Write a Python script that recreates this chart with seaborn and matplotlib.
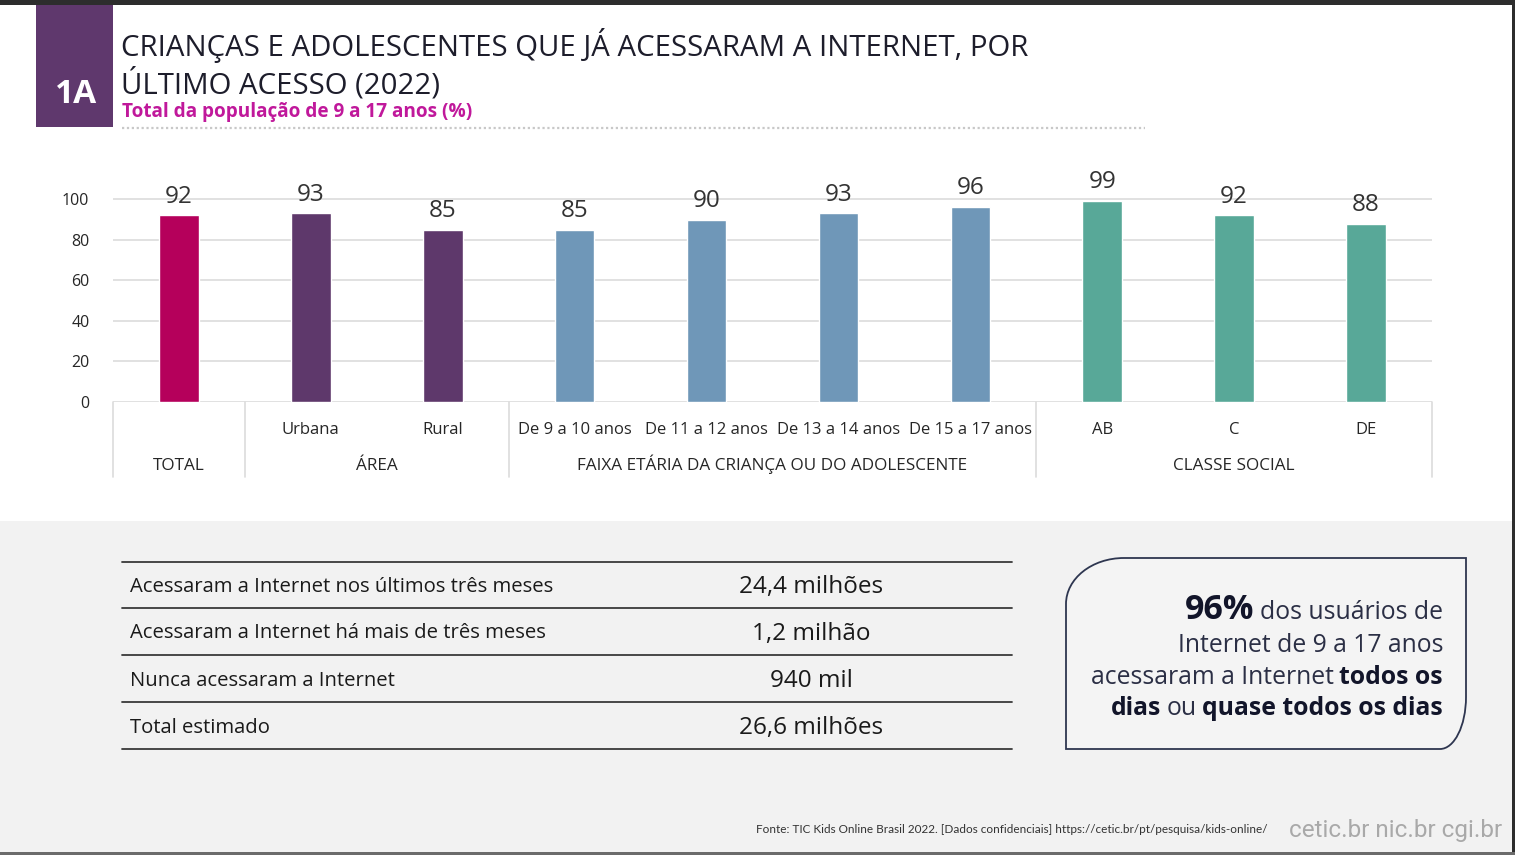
import matplotlib
matplotlib.use("Agg")
import matplotlib.pyplot as plt
import seaborn as sns
import pandas as pd
from matplotlib.patches import Rectangle, PathPatch
from matplotlib.path import Path
from matplotlib.lines import Line2D
import matplotlib.transforms as mtransforms

# ---------------- data ----------------
categories = ["TOTAL", "Urbana", "Rural", "De 9 a 10 anos", "De 11 a 12 anos",
              "De 13 a 14 anos", "De 15 a 17 anos", "AB", "C", "DE"]
tick_labels = ["", "Urbana", "Rural", "De 9 a 10 anos", "De 11 a 12 anos",
               "De 13 a 14 anos", "De 15 a 17 anos", "AB", "C", "DE"]
values = [92, 93, 85, 85, 90, 93, 96, 99, 92, 88]
groups = ["TOTAL", "ÁREA", "ÁREA",
          "FAIXA ETÁRIA DA CRIANÇA OU DO ADOLESCENTE",
          "FAIXA ETÁRIA DA CRIANÇA OU DO ADOLESCENTE",
          "FAIXA ETÁRIA DA CRIANÇA OU DO ADOLESCENTE",
          "FAIXA ETÁRIA DA CRIANÇA OU DO ADOLESCENTE",
          "CLASSE SOCIAL", "CLASSE SOCIAL", "CLASSE SOCIAL"]
group_colors = {"TOTAL": "#b5005b", "ÁREA": "#5e386b",
                "FAIXA ETÁRIA DA CRIANÇA OU DO ADOLESCENTE": "#6f97b8",
                "CLASSE SOCIAL": "#58a898"}
y_ticks = [0, 20, 40, 60, 80, 100]

table_labels = ["Acessaram a Internet nos últimos três meses",
                "Acessaram a Internet há mais de três meses",
                "Nunca acessaram a Internet",
                "Total estimado"]
table_values = ["24,4 milhões", "1,2 milhão", "940 mil", "26,6 milhões"]

title_lines = ["CRIANÇAS E ADOLESCENTES QUE JÁ ACESSARAM A INTERNET, POR",
               "ÚLTIMO ACESSO (2022)"]
subtitle = "Total da população de 9 a 17 anos (%)"
source = "Fonte: TIC Kids Online Brasil 2022. [Dados confidenciais] https://cetic.br/pt/pesquisa/kids-online/"
logos = "cetic.br nic.br cgi.br"

# ---------------- setup ----------------
sns.set_theme(style="white")
plt.rcParams['font.family'] = ['Open Sans', 'DejaVu Sans']

W, H = 1515, 855
fig = plt.figure(figsize=(W / 100, H / 100), dpi=100, facecolor="white")


def fx(x):
    return x / W


def fy(y):
    return 1 - y / H


TF = fig.transFigure
DARK = "#262626"

# backgrounds / borders
fig.add_artist(Rectangle((0, fy(852)), 1, fy(521) - fy(852), transform=TF,
                         facecolor="#f2f2f2", edgecolor="none", zorder=0))
fig.add_artist(Rectangle((0, fy(5)), 1, 1 - fy(5), transform=TF,
                         facecolor="#2d2d2d", edgecolor="none", zorder=5))
fig.add_artist(Rectangle((fx(1512), 0), 1, 1, transform=TF,
                         facecolor="#2d2d2d", edgecolor="none", zorder=5))
fig.add_artist(Rectangle((0, 0), 1, fy(852), transform=TF,
                         facecolor="#6b6b6b", edgecolor="none", zorder=5))

# header
fig.add_artist(Rectangle((fx(36), fy(127)), fx(113) - fx(36), fy(5) - fy(127),
                         transform=TF, facecolor="#5f386d", edgecolor="none", zorder=2))
fig.text(fx(76), fy(103), "1A", color="white", fontsize=24, fontweight="bold",
         ha="center", va="baseline")
fig.text(fx(121), fy(56), title_lines[0], color="#1d1d2b", fontsize=21.2,
         ha="left", va="baseline")
fig.text(fx(121), fy(93), title_lines[1], color="#1d1d2b", fontsize=21.2,
         ha="left", va="baseline")
fig.text(fx(122), fy(117), subtitle, color="#c0189b", fontsize=13.7,
         fontweight="bold", ha="left", va="baseline")
fig.add_artist(Line2D([fx(122), fx(1145)], [fy(128), fy(128)], transform=TF,
                      color="#c8c8c8", lw=1.6, ls=(0, (1, 1.2))))

# ---------------- bar chart ----------------
ax = fig.add_axes([fx(113), fy(402), fx(1432) - fx(113), fy(179) - fy(402)])
df = pd.DataFrame({"cat": categories, "val": values, "grp": groups})
sns.barplot(data=df, x="cat", y="val", hue="grp", palette=group_colors,
            dodge=False, width=0.3, saturation=1, legend=False, ax=ax, zorder=3)
ax.set_xlim(-0.5, len(categories) - 0.5)
ax.set_ylim(0, 110)
ax.set_yticks(y_ticks)
ax.set_yticklabels([str(t) for t in y_ticks])
ax.tick_params(axis="y", length=0, pad=17, labelsize=11.5, labelcolor=DARK)
ax.set_xticks([])
ax.set_xlabel("")
ax.set_ylabel("")
ax.set_facecolor("none")
for s in ax.spines.values():
    s.set_visible(False)
for t in y_ticks:
    ax.axhline(t, color="#dcdcdc", lw=1.2, zorder=1)

for cont in ax.containers:
    ax.bar_label(cont, fmt="%d", padding=5, fontsize=17.5, color="#333333")

# category labels below
btr = mtransforms.blended_transform_factory(ax.transData, ax.transAxes)
ax_h = 402 - 179
for i, lab in enumerate(tick_labels):
    ax.text(i, -(434 - 402) / ax_h, lab, transform=btr, ha="center",
            va="baseline", fontsize=12, color=DARK, clip_on=False)

group_order = []
for g in groups:
    if g not in group_order:
        group_order.append(g)
bounds = [-0.5]
for g in group_order:
    idx = [i for i, gg in enumerate(groups) if gg == g]
    ax.text(sum(idx) / len(idx), -(470 - 402) / ax_h, g, transform=btr,
            ha="center", va="baseline", fontsize=12.3, color=DARK, clip_on=False)
    bounds.append(max(idx) + 0.5)
for b in bounds:
    ax.add_line(Line2D([b, b], [0, -(477 - 402) / ax_h], transform=btr,
                       color="#dcdcdc", lw=1.2, clip_on=False))

# ---------------- table ----------------
row_lines = [562, 608, 655, 702, 749]
for y in row_lines:
    fig.add_artist(Line2D([fx(122), fx(1012)], [fy(y), fy(y)], transform=TF,
                          color="#3a3a3a", lw=1.3))
for i, (lab, val) in enumerate(zip(table_labels, table_values)):
    yb = (row_lines[i] + row_lines[i + 1]) / 2 + 7
    fig.text(fx(130), fy(yb), lab, fontsize=14.6, color="#1a1a1a",
             ha="left", va="baseline")
    fig.text(fx(811), fy(yb + 1), val, fontsize=17.5, color="#1a1a1a",
             ha="center", va="baseline")

# ---------------- callout box ----------------
x0, x1, y0, y1 = 1066, 1466, 558, 749
rx1, ry1 = 58, 46
rx2, ry2 = 26, 52
k = 0.5523
pts = [
    (x0, y0 + ry1), (x0, y1), (x1 - rx2, y1),
    (x1 - rx2 + k * rx2, y1), (x1, y1 - ry2 + k * ry2), (x1, y1 - ry2),
    (x1, y0), (x0 + rx1, y0),
    (x0 + rx1 - k * rx1, y0), (x0, y0 + ry1 - k * ry1), (x0, y0 + ry1),
    (x0, y0 + ry1),
]
codes = [Path.MOVETO, Path.LINETO, Path.LINETO,
         Path.CURVE4, Path.CURVE4, Path.CURVE4,
         Path.LINETO, Path.LINETO,
         Path.CURVE4, Path.CURVE4, Path.CURVE4,
         Path.CLOSEPOLY]
path = Path([(fx(a), fy(b)) for a, b in pts], codes)
fig.add_artist(PathPatch(path, transform=TF, facecolor="#f4f4f4",
                         edgecolor="#2e3650", lw=1.3, zorder=2))

renderer = fig.canvas.get_renderer()


def rich_line(xr, yb, pieces):
    """pieces: list of (text, size, weight, color); right aligned at xr px."""
    x = xr
    for txt, size, weight, color in reversed(pieces):
        t = fig.text(fx(x), fy(yb), txt, fontsize=size, fontweight=weight,
                     color=color, ha="right", va="baseline", zorder=4)
        w = t.get_window_extent(renderer).width
        x = x - w - size * 0.30


NRM = "#2b2f45"
BLD = "#12152a"
FS = 17.8
rich_line(1443, 619, [("96%", 24.5, "bold", BLD), ("dos usuários de", FS, "normal", NRM)])
rich_line(1443, 652, [("Internet de 9 a 17 anos", FS, "normal", NRM)])
rich_line(1443, 684, [("acessaram a Internet", FS, "normal", NRM),
                      ("todos os", FS, "bold", BLD)])
rich_line(1443, 715, [("dias", FS, "bold", BLD), ("ou", FS, "normal", NRM),
                      ("quase todos os dias", FS, "bold", BLD)])

# ---------------- footer ----------------
fig.text(fx(1268), fy(833), source, fontsize=8.5, color="#333333",
         ha="right", va="baseline", family=["Lato", "DejaVu Sans"])
fig.text(fx(1502), fy(837), logos, fontsize=17.5, color="#a9a9a9",
         ha="right", va="baseline", family=["Roboto", "DejaVu Sans"])

fig.savefig("out.png", dpi=100, facecolor="white")
